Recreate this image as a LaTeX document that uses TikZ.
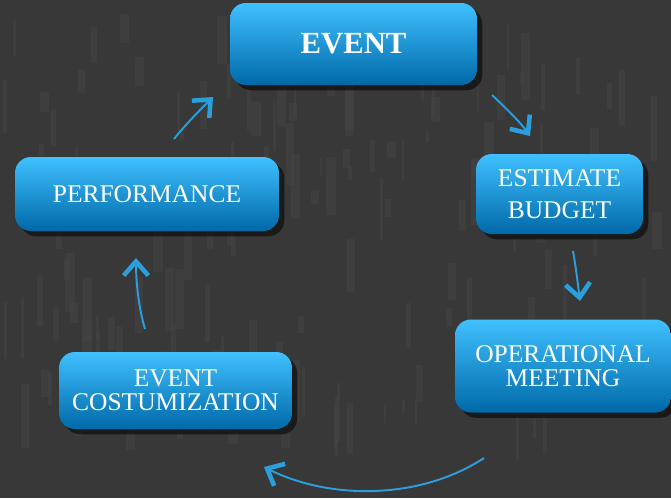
\documentclass[tikz,border=0pt]{standalone}
\usepackage{fontspec}
\setmainfont{Liberation Serif}
\usetikzlibrary{arrows.meta,shadows,calc}
\definecolor{bg}{HTML}{383838}
\definecolor{bgl}{HTML}{434343}
\definecolor{boxtop}{HTML}{40C0FF}
\definecolor{boxmid}{HTML}{00A2EA}
\definecolor{boxbot}{HTML}{0069A8}
\definecolor{arr}{HTML}{2A9FDC}
\tikzset{
  stepbox/.style={rounded corners=9pt, inner sep=0pt, align=center, text=white,
    top color=boxtop, middle color=boxmid, bottom color=boxbot,
    font=\fontsize{14.5}{18}\selectfont,
    drop shadow={shadow xshift=3pt, shadow yshift=-3pt, opacity=0.55, fill=black}},
  flow/.style={draw=arr, line width=1.1pt,
    -{Straight Barb[length=8pt,width=14pt,line width=2.6pt]}}
}
\begin{document}
\begin{tikzpicture}[x=0.02cm,y=-0.02cm]
\fill[bg] (0,0) rectangle (671,498);
\useasboundingbox (0,0) rectangle (671,498);
\pgfmathsetseed{7}
\foreach \i in {1,...,160}{
  \pgfmathsetmacro{\xx}{rnd*660}
  \pgfmathsetmacro{\yy}{rnd*420}
  \pgfmathsetmacro{\ww}{2+rnd*8}
  \pgfmathsetmacro{\hh}{10+rnd*60}
  \fill[bgl,opacity=0.6] (\xx,\yy) rectangle ++(\ww,\hh);
}
\node[stepbox, minimum width=4.94cm, minimum height=1.64cm,
  font=\fontsize{17.5}{20}\selectfont\bfseries] (event) at (353.5,44) {EVENT};
\node[stepbox, minimum width=3.34cm, minimum height=1.6cm] (budget) at (559.5,194) {ESTIMATE\\BUDGET};
\node[stepbox, minimum width=4.32cm, minimum height=1.86cm,
  font=\fontsize{14.5}{13.8}\selectfont] (meeting) at (563,366) {OPERATIONAL\\MEETING};
\node[stepbox, minimum width=4.66cm, minimum height=1.54cm,
  font=\fontsize{14.5}{13.8}\selectfont] (custom) at (175.5,390.5) {EVENT\\COSTUMIZATION};
\node[stepbox, minimum width=5.28cm, minimum height=1.48cm] (perf) at (147,194) {PERFORMANCE};

\coordinate (a1s) at (492,95);  \coordinate (a1e) at (530,136);
\coordinate (a2s) at (573,251); \coordinate (a2e) at (580,301);
\coordinate (a3s) at (484,458); \coordinate (a3e) at (264,467);
\coordinate (a4s) at (145,329); \coordinate (a4e) at (136,258);
\coordinate (a5s) at (174,139); \coordinate (a5e) at (213,97);

\draw[flow] (a1s) .. controls (508,110) and (520,122) .. (a1e);
\draw[flow] (a2s) .. controls (576,268) and (578,285) .. (a2e);
\draw[flow] (a3s) .. controls (420,500) and (330,500) .. (a3e);
\draw[flow] (a4s) .. controls (138,305) and (136,280) .. (a4e);
\draw[flow] (a5s) .. controls (186,124) and (200,110) .. (a5e);
\end{tikzpicture}
\end{document}
